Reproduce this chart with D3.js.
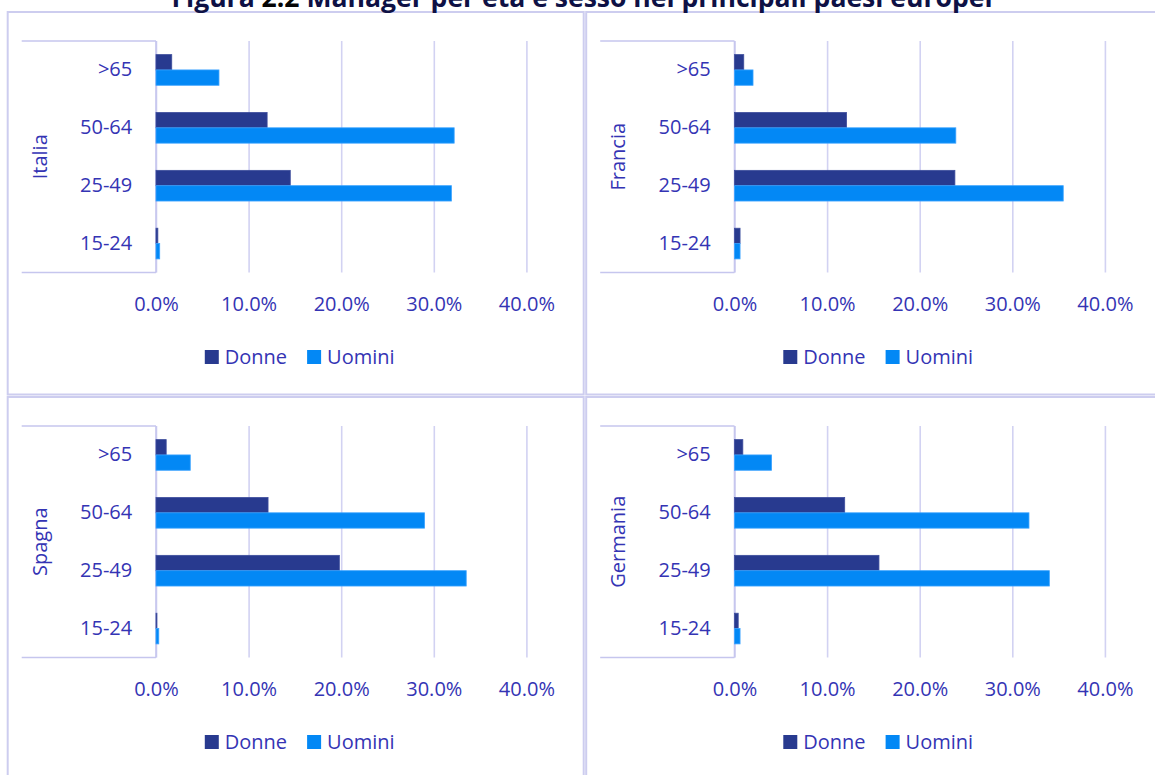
<!DOCTYPE html>
<html>
<head>
<meta charset="utf-8">
<script src="https://cdn.jsdelivr.net/npm/d3@7"></script>
<style>
  html, body { margin: 0; padding: 0; background: #ffffff; }
  svg { display: block; }
  text { font-family: "Open Sans", "Noto Sans", sans-serif; }
</style>
</head>
<body>
<svg id="chart" width="1155" height="775"></svg>
<script>
// Age groups, top to bottom as drawn
const ageGroups = [">65", "50-64", "25-49", "15-24"];
const seriesNames = ["Donne", "Uomini"];
const countries = ["Italia", "Francia", "Spagna", "Germania"];

// Share of managers (%) per age group, same order as ageGroups
const italiaDonne   = [1.7, 12.0, 14.5, 0.2];
const italiaUomini  = [6.8, 32.2, 31.9, 0.4];
const franciaDonne  = [1.0, 12.1, 23.8, 0.6];
const franciaUomini = [2.0, 23.9, 35.5, 0.6];
const spagnaDonne   = [1.1, 12.1, 19.8, 0.1];
const spagnaUomini  = [3.7, 29.0, 33.5, 0.3];
const germaniaDonne = [0.9, 11.9, 15.6, 0.4];
const germaniaUomini= [4.0, 31.8, 34.0, 0.6];

const xTicks = [0, 10, 20, 30, 40];
const titleMain = "Figura ";
const titleNum = "2.2";
const titleRest = " Manager per età e sesso nei principali paesi europei";

const panelData = [
  { name: countries[0], Donne: italiaDonne,   Uomini: italiaUomini },
  { name: countries[1], Donne: franciaDonne,  Uomini: franciaUomini },
  { name: countries[2], Donne: spagnaDonne,   Uomini: spagnaUomini },
  { name: countries[3], Donne: germaniaDonne, Uomini: germaniaUomini }
];

const colors = { Donne: "#283a8f", Uomini: "#0388f5" };
const strokes = { Donne: "#3d4d9c", Uomini: "#3aa2ff" };
const textColor = "#3434b4";
const gridColor = "#d2d2f2";
const borderColor = "#cdcdef";

const svg = d3.select("#chart");
svg.append("rect").attr("width", 1155).attr("height", 775).attr("fill", "#fff");

// Panel geometry (relative to each panel's top-left corner)
const panelW = 576, topH = 382.5;
const origins = [[7.7, 12], [586.2, 12], [7.7, 397], [586.2, 397]];
const boxLeft = 14, axisX = 148.3, maxX = 518.7;
const plotTop = 29, plotBottom = 260.5;

const x = d3.scaleLinear().domain([0, 40]).range([axisX, maxX]);
const y = d3.scaleBand().domain(ageGroups).range([plotTop, plotBottom])
  .paddingInner(0.47).paddingOuter(0.235);
const ySub = d3.scaleBand().domain(seriesNames).range([0, y.bandwidth()]);

panelData.forEach((p, i) => {
  const [ox, oy] = origins[i];
  const g = svg.append("g").attr("transform", `translate(${ox},${oy})`);

  // panel frame
  g.append("rect")
    .attr("x", 0).attr("y", 0)
    .attr("width", panelW).attr("height", i < 2 ? topH : 420)
    .attr("fill", "none").attr("stroke", borderColor).attr("stroke-width", 2);

  // vertical gridlines + percentage labels
  const xAxis = d3.axisBottom(x)
    .tickValues(xTicks)
    .tickSize(-(plotBottom - plotTop))
    .tickFormat(d => d3.format(".1f")(d) + "%");
  const ax = g.append("g")
    .attr("transform", `translate(0,${plotBottom})`)
    .call(xAxis);
  ax.select(".domain").remove();
  ax.selectAll(".tick line").attr("stroke", gridColor).attr("stroke-width", 1.6);
  ax.selectAll(".tick text")
    .attr("y", 38).attr("dy", 0)
    .attr("fill", textColor)
    .style("font-size", "20px")
    .style("font-family", "'Open Sans', sans-serif");

  // category box: top and bottom rules plus axis line
  const box = g.append("g").attr("stroke", "#c6c6ee").attr("stroke-width", 1.6).attr("fill", "none");
  box.append("line").attr("x1", boxLeft).attr("x2", axisX).attr("y1", plotTop).attr("y2", plotTop);
  box.append("line").attr("x1", boxLeft).attr("x2", axisX).attr("y1", plotBottom).attr("y2", plotBottom);
  box.append("line").attr("x1", axisX).attr("x2", axisX).attr("y1", plotTop).attr("y2", plotBottom);

  // bars
  seriesNames.forEach(s => {
    g.append("g").selectAll("rect")
      .data(ageGroups.map((a, k) => ({ age: a, v: p[s][k] })))
      .join("rect")
      .attr("x", x(0))
      .attr("y", d => y(d.age) + ySub(s))
      .attr("width", d => x(d.v) - x(0))
      .attr("height", ySub.bandwidth())
      .attr("fill", colors[s])
      .attr("stroke", strokes[s])
      .attr("stroke-width", 0.8);
  });

  // age group labels
  const yAxis = d3.axisLeft(y).tickSize(0).tickPadding(axisX - 124.5);
  const ay = g.append("g").attr("transform", "translate(" + axisX + ",0)").call(yAxis);
  ay.select(".domain").remove();
  ay.selectAll(".tick text")
    .attr("fill", textColor)
    .style("font-size", "20px")
    .style("font-family", "'Open Sans', sans-serif");
  ay.attr("transform", "translate(" + axisX + ",0)");
  ay.selectAll(".tick").attr("transform", d => `translate(0,${y(d) + y.bandwidth() / 2})`);

  // country label
  g.append("text")
    .attr("transform", `translate(32,${(plotTop + plotBottom) / 2}) rotate(-90)`)
    .attr("text-anchor", "middle")
    .attr("dy", "0.35em")
    .attr("fill", textColor)
    .style("font-size", "20px")
    .text(p.name);

  // legend
  const leg = g.append("g").attr("transform", "translate(0,345)");
  let cx = 0;
  const items = [];
  seriesNames.forEach((s, k) => {
    const it = leg.append("g");
    it.append("rect").attr("x", 0).attr("y", -7).attr("width", 14).attr("height", 14).attr("fill", colors[s]);
    const t = it.append("text").attr("x", 20).attr("dy", "0.35em")
      .attr("fill", textColor).style("font-size", "20px").text(s);
    const w = 20 + t.node().getComputedTextLength();
    items.push({ it, x: cx });
    cx += w + (k === 0 ? 20 : 0);
  });
  const start = panelW / 2 + 4 - cx / 2;
  items.forEach(d => d.it.attr("transform", `translate(${start + d.x},0)`));
});

// title, cut at the top edge
const title = svg.append("text")
  .attr("x", 582).attr("y", 7.3)
  .attr("text-anchor", "middle")
  .attr("fill", "#0e1145")
  .style("font-weight", "700")
  .style("font-size", "20px");
title.append("tspan").text(titleMain);
title.append("tspan").attr("fill", "#050505").text(titleNum);
title.append("tspan").text(titleRest);
const tw = title.node().getComputedTextLength();
title.style("font-size", (20 * 821 / tw).toFixed(2) + "px");
</script>
</body>
</html>
